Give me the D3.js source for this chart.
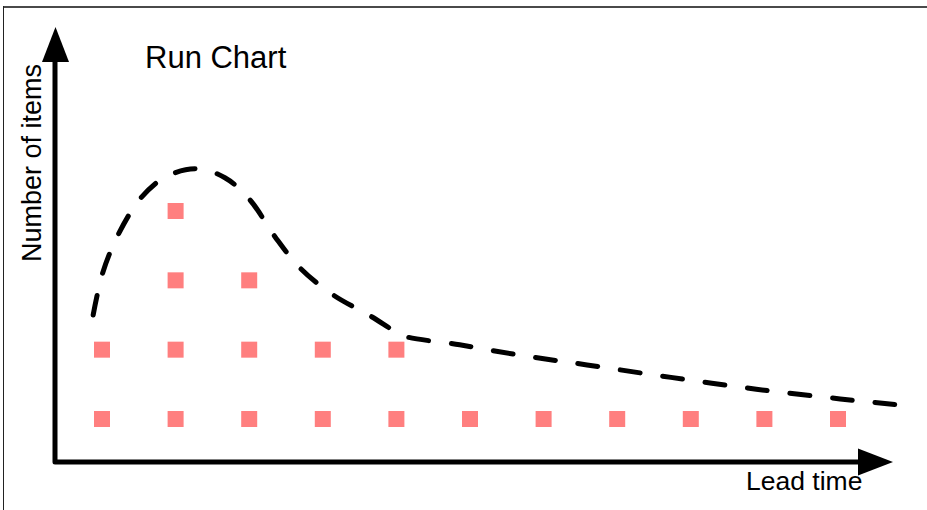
<!DOCTYPE html>
<html>
<head>
<meta charset="utf-8">
<script src="https://cdn.jsdelivr.net/npm/d3@7/dist/d3.min.js"></script>
<style>
  html, body { margin: 0; padding: 0; background: #fff; }
  svg { display: block; }
  text { font-family: "Liberation Sans", Arial, Helvetica, sans-serif; fill: #000; }
</style>
</head>
<body>
<svg id="chart" width="927" height="510"></svg>
<script>
// ---- Data ----
const title = "Run Chart";
const xLabel = "Lead time";
const yLabel = "Number of items";
// lead-time buckets (columns) and the number of items in each
const leadTimes = [1, 2, 3, 4, 5, 6, 7, 8, 9, 10, 11];
const itemCounts = [2, 4, 3, 2, 2, 1, 1, 1, 1, 1, 1];
// hand-drawn trend curve (lead time, items)
const trendX = [0.88, 1.01, 1.23, 1.53, 1.86, 2.28, 2.67, 3.01, 3.35, 3.69, 4.14, 4.64, 4.995, 5.12, 5.86, 6.68, 7.59, 8.73, 9.89, 11.03, 11.77];
const trendY = [2.50, 3.11, 3.68, 4.19, 4.49, 4.61, 4.48, 4.16, 3.63, 3.18, 2.79, 2.49, 2.255, 2.19, 2.07, 1.92, 1.78, 1.60, 1.43, 1.29, 1.21];

// ---- Layout ----
const svg = d3.select("#chart");
const W = 927, H = 510;
const axisX = 55, axisY = 462;

const x = d3.scaleLinear().domain([1, 11]).range([102, 838]);
const y = d3.scaleLinear().domain([1, 4]).range([419, 211]);

// frame
svg.append("line").attr("x1", 3).attr("x2", W).attr("y1", 7).attr("y2", 7)
  .attr("stroke", "#4a4a4a").attr("stroke-width", 2);
svg.append("line").attr("x1", 3.5).attr("x2", 3.5).attr("y1", 6).attr("y2", H)
  .attr("stroke", "#222").attr("stroke-width", 1);

// squares
const cells = [];
leadTimes.forEach((t, i) => {
  for (let c = 1; c <= itemCounts[i]; c++) cells.push({ t, c });
});
const sq = 16;
svg.append("g").selectAll("rect").data(cells).join("rect")
  .attr("x", d => x(d.t) - sq / 2)
  .attr("y", d => y(d.c) - sq / 2)
  .attr("width", sq).attr("height", sq)
  .attr("fill", "#ff7f7f");

// trend curve
const pts = trendX.map((t, i) => [t, trendY[i]]);
const line = d3.line().x(d => x(d[0])).y(d => y(d[1])).curve(d3.curveCatmullRom.alpha(0.5));
const curve = svg.append("path").attr("d", line(pts))
  .attr("fill", "none").attr("stroke", "#000")
  .attr("stroke-width", 5).attr("stroke-linecap", "round");
// fit the dash pattern so the curve starts and ends with a dash
const L = curve.node().getTotalLength();
const dash = 20;
const n = Math.round((L - dash) / 42);
const period = (L - dash) / n;
curve.attr("stroke-dasharray", `${dash} ${period - dash}`);

// axes
svg.append("path")
  .attr("d", `M${axisX},60 V${axisY} H860`)
  .attr("fill", "none").attr("stroke", "#000").attr("stroke-width", 5)
  .attr("stroke-linejoin", "round");
svg.append("path")
  .attr("d", `M${axisX + 0.5},27 L${axisX + 14},62 L${axisX - 13},62 Z`)
  .attr("fill", "#000");
svg.append("path")
  .attr("d", `M893,${axisY} L858,${axisY - 13.5} L858,${axisY + 13.5} Z`)
  .attr("fill", "#000");

// texts
svg.append("text").attr("x", 145).attr("y", 68)
  .attr("font-size", 31).text(title);
svg.append("text").attr("x", 746).attr("y", 490)
  .attr("font-size", 26.5).text(xLabel);
svg.append("text")
  .attr("transform", "translate(41,163) rotate(-90)")
  .attr("text-anchor", "middle")
  .attr("font-size", 27).text(yLabel);
</script>
</body>
</html>
